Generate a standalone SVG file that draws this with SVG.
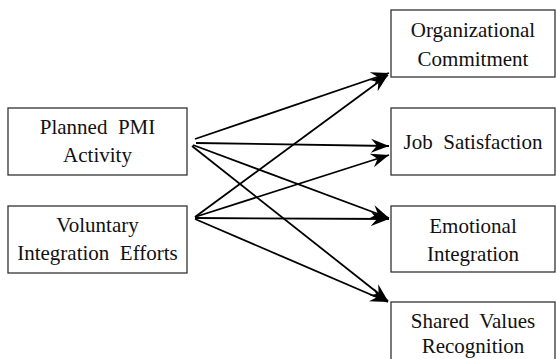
<svg xmlns="http://www.w3.org/2000/svg" width="556" height="359" viewBox="0 0 556 359">
<style>
.box{fill:#fff;stroke:#333;stroke-width:1.3}
.t{font-family:"Liberation Serif","Times New Roman",serif;font-size:21px;fill:#111;text-anchor:middle;white-space:pre}
.c{stroke:#000;stroke-width:1.8;fill:none;marker-end:url(#ah)}
</style>
<defs>
<marker id="ah" markerUnits="userSpaceOnUse" markerWidth="20" markerHeight="16" viewBox="-18 -8 20 16" refX="0" refY="0" orient="auto">
<path d="M0,0 L-18,-7 L-12,0 L-18,7 Z" fill="#000"/>
</marker>
</defs>
<rect width="556" height="359" fill="#fff"/>
<g id="connectors">
<line class="c" x1="195" y1="139" x2="389" y2="73"/>
<line class="c" x1="196" y1="143" x2="389" y2="146"/>
<line class="c" x1="193" y1="145" x2="389" y2="218"/>
<line class="c" x1="192" y1="146" x2="388" y2="301"/>
<line class="c" x1="195" y1="217" x2="388" y2="75"/>
<line class="c" x1="195" y1="217" x2="389" y2="155"/>
<line class="c" x1="195" y1="218" x2="389" y2="219"/>
<line class="c" x1="195" y1="219" x2="388" y2="302"/>
</g>
<g id="planned">
<rect class="box" x="8" y="108" width="179" height="67"/>
<text class="t" x="97.5" y="134" xml:space="preserve">Planned  PMI</text>
<text class="t" x="97.5" y="162">Activity</text>
</g>
<g id="voluntary">
<rect class="box" x="8" y="206" width="179" height="67"/>
<text class="t" x="97.5" y="232">Voluntary</text>
<text class="t" x="97.5" y="260" xml:space="preserve">Integration  Efforts</text>
</g>
<g id="org">
<rect class="box" x="391" y="10" width="164" height="67"/>
<text class="t" x="473" y="37">Organizational</text>
<text class="t" x="473" y="66">Commitment</text>
</g>
<g id="job">
<rect class="box" x="391" y="108" width="164" height="67"/>
<text class="t" x="473" y="149" xml:space="preserve">Job  Satisfaction</text>
</g>
<g id="emotional">
<rect class="box" x="391" y="206" width="164" height="66"/>
<text class="t" x="473" y="233">Emotional</text>
<text class="t" x="473" y="261">Integration</text>
</g>
<g id="shared">
<rect class="box" x="391" y="302" width="164" height="70"/>
<text class="t" x="473" y="328" xml:space="preserve">Shared  Values</text>
<text class="t" x="473" y="353">Recognition</text>
</g>
</svg>
